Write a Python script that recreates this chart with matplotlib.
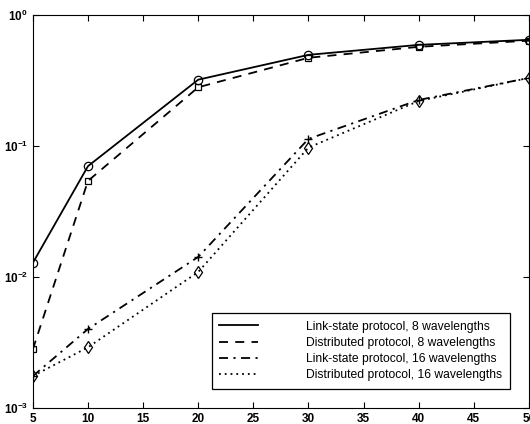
import matplotlib
matplotlib.use('Agg')
import matplotlib.pyplot as plt

plt.rcParams['font.family'] = ['Liberation Sans', 'DejaVu Sans']

# Data
x = [5, 10, 20, 30, 40, 50]
ls8 = [0.0128, 0.070, 0.32, 0.495, 0.59, 0.645]
dist8 = [0.0028, 0.054, 0.28, 0.47, 0.57, 0.635]
ls16 = [0.00175, 0.0040, 0.0142, 0.113, 0.224, 0.33]
dist16 = [0.00175, 0.0029, 0.0109, 0.097, 0.22, 0.33]

labels = ['Link-state protocol, 8 wavelengths',
          'Distributed protocol, 8 wavelengths',
          'Link-state protocol, 16 wavelengths',
          'Distributed protocol, 16 wavelengths']

fig = plt.figure(figsize=(5.3, 4.24), dpi=100)
ax = fig.add_axes([0.062, 0.038, 0.936, 0.927])

# Lines (legend shows lines only)
ax.plot(x, ls8, 'k-', lw=1.3, label=labels[0])
ax.plot(x, dist8, 'k--', lw=1.3, dashes=(5, 4), label=labels[1])
ax.plot(x, ls16, 'k-', lw=1.3, dashes=(5, 3, 1.2, 3), label=labels[2])
ax.plot(x, dist16, 'k:', lw=1.3, dashes=(1, 2.2), label=labels[3])

# Markers plotted separately
ax.plot(x, ls8, 'ko', mfc='none', ms=6, mew=0.9, ls='none')
ax.plot(x, dist8, 'ks', mfc='none', ms=5, mew=0.9, ls='none')
ax.plot(x, ls16, 'k+', ms=6, mew=1.0, ls='none')
ax.plot(x, dist16, 'kd', mfc='none', ms=6, mew=0.9, ls='none')

ax.set_yscale('log')
ax.set_xlim(5, 50)
ax.set_ylim(1e-3, 1)
ax.set_xticks(range(5, 51, 5))
ax.minorticks_off()
ax.tick_params(direction='in', top=True, right=True, labelsize=8.5, length=4)
for lab in ax.get_xticklabels() + ax.get_yticklabels():
    lab.set_fontweight('bold')

leg = ax.legend(loc='lower right', fontsize=8.7, fancybox=False, framealpha=1,
                edgecolor='black', handlelength=3.2, borderaxespad=1.6,
                handletextpad=4.0, labelspacing=0.35, borderpad=0.6)
leg.get_frame().set_linewidth(0.9)

fig.savefig('out.png', dpi=100)
